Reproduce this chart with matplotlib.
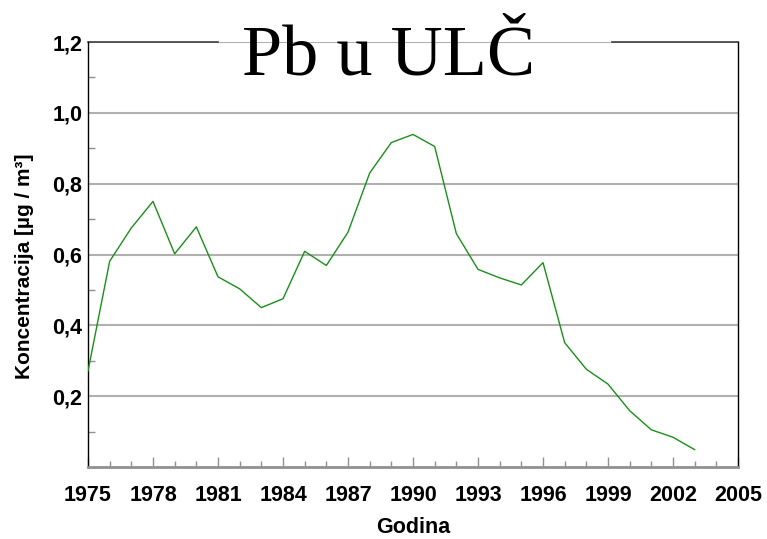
import matplotlib.pyplot as plt
from matplotlib.ticker import MultipleLocator, FuncFormatter

years = list(range(1975, 2004))
pb = [0.271, 0.581, 0.675, 0.750, 0.602, 0.678, 0.537, 0.503, 0.450, 0.475,
      0.609, 0.569, 0.663, 0.830, 0.916, 0.939, 0.905, 0.659, 0.558, 0.534,
      0.514, 0.577, 0.351, 0.276, 0.234, 0.159, 0.105, 0.084, 0.049]
xticks = list(range(1975, 2006, 3))
yticks = [0.2, 0.4, 0.6, 0.8, 1.0, 1.2]

plt.rcParams['font.family'] = ['Liberation Sans', 'DejaVu Sans']

fig = plt.figure(figsize=(7.67, 5.39), dpi=100)
ax = fig.add_axes([88 / 767, 72 / 539, 650 / 767, 425 / 539])

ax.plot(years, pb, color='#1a8f1a', lw=1.0, zorder=3)

ax.set_xlim(1975, 2005)
ax.set_ylim(0, 1.2)
ax.set_xticks(xticks)
ax.xaxis.set_minor_locator(MultipleLocator(1))
ax.set_yticks(yticks)
ax.yaxis.set_minor_locator(MultipleLocator(0.1))
ax.yaxis.set_major_formatter(FuncFormatter(lambda v, p: f"{v:.1f}".replace('.', ',')))

ax.grid(axis='y', which='major', color='#b0b0b0', lw=1.5, zorder=1)
ax.tick_params(which='both', direction='in', color='#909090', labelsize=15.5)
ax.tick_params(axis='x', which='major', length=7, width=1, pad=13)
ax.tick_params(axis='x', which='minor', length=4, width=1)
ax.tick_params(axis='y', which='major', length=0, pad=4)
ax.tick_params(axis='y', which='minor', length=5, width=1)
for lab in ax.get_xticklabels() + ax.get_yticklabels():
    lab.set_fontweight('bold')

ax.spines['bottom'].set_color('#909090')
ax.spines['bottom'].set_linewidth(2)
for s in ['left', 'right']:
    ax.spines[s].set_color('black')
    ax.spines[s].set_linewidth(1)

# top border broken by the title
ax.spines['top'].set_visible(False)
ax.plot([0, 0.2], [1, 1], transform=ax.transAxes, color='#404040', lw=1.2, clip_on=False)
ax.plot([0.806, 1], [1, 1], transform=ax.transAxes, color='#404040', lw=1.2, clip_on=False)

ax.set_xlabel('Godina', fontsize=15.5, fontweight='bold', labelpad=8)
ax.set_ylabel('Koncentracija [µg / m³]', fontsize=15, fontweight='bold')
ax.yaxis.set_label_coords(-0.083, 0.473)

ax.text(0.462, 0.965, 'Pb u ULČ', transform=ax.transAxes, ha='center', va='center',
        fontsize=52, family='Liberation Serif', zorder=5, clip_on=False)

fig.savefig('out.png', dpi=100)
